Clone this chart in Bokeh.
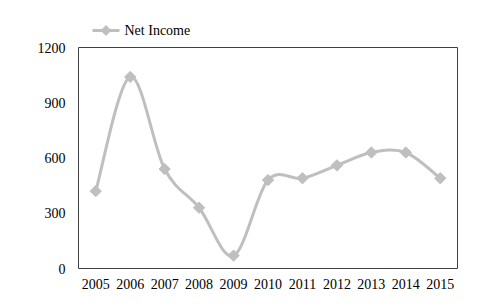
import math
from bokeh.plotting import figure
from bokeh.layouts import column
from bokeh.models import ColumnDataSource, FixedTicker
from bokeh.core.properties import value
from bokeh.embed import file_html
from bokeh.resources import INLINE

years = [2005, 2006, 2007, 2008, 2009, 2010, 2011, 2012, 2013, 2014, 2015]
net_income = [420, 1040, 540, 330, 70, 480, 490, 560, 630, 630, 490]
y_ticks = [0, 300, 600, 900, 1200]
series_name = "Net Income"

FONT = "'Liberation Serif', 'Times New Roman', serif"
GRAY = "#BFBFBF"

# smooth (Catmull-Rom style) segments through the data points
n = len(years)
seg = dict(x0=[], y0=[], x1=[], y1=[], cx0=[], cy0=[], cx1=[], cy1=[])
for i in range(n - 1):
    a = i - 1 if i > 0 else i
    d = i + 2 if i + 2 < n else i + 1
    seg["x0"].append(years[i]); seg["y0"].append(net_income[i])
    seg["x1"].append(years[i + 1]); seg["y1"].append(net_income[i + 1])
    seg["cx0"].append(years[i] + (years[i + 1] - years[a]) / 6)
    seg["cy0"].append(net_income[i] + (net_income[i + 1] - net_income[a]) / 6)
    seg["cx1"].append(years[i + 1] - (years[d] - years[i]) / 6)
    seg["cy1"].append(net_income[i + 1] - (net_income[d] - net_income[i]) / 6)

# ---- legend strip (ranges map 1 unit to 1 screen pixel) ----
lg = figure(width=479, height=40, output_backend="svg", toolbar_location=None,
            x_range=(78, 457), y_range=(40, 0), min_border=0,
            min_border_left=78, min_border_right=22,
            x_axis_location=None, y_axis_location=None)
lg.grid.visible = False
lg.outline_line_color = None
lg.background_fill_color = "white"
lg.border_fill_color = "white"
lg.line([92, 119], [30, 30], line_color=GRAY, line_width=3)
lg.scatter([105.5], [30], marker="square", size=7, angle=math.pi / 4,
           fill_color=GRAY, line_color=GRAY)
lg.text([124], [30], text=[series_name], text_font=value(FONT),
        text_font_size="14px", text_color="#000000", text_baseline="middle",
        text_align="left")

# ---- main chart ----
p = figure(width=479, height=264, output_backend="svg", toolbar_location=None,
           x_range=(years[0] - 0.5, years[-1] + 0.5), y_range=(0, 1200),
           min_border_left=78, min_border_right=22, min_border_top=7,
           min_border_bottom=36)
p.background_fill_color = "white"
p.border_fill_color = "white"
p.outline_line_color = "#404040"
p.outline_line_width = 1
p.grid.visible = False

p.bezier(x0="x0", y0="y0", x1="x1", y1="y1", cx0="cx0", cy0="cy0",
         cx1="cx1", cy1="cy1", source=ColumnDataSource(seg),
         line_color=GRAY, line_width=3)
src = ColumnDataSource(dict(x=years, y=net_income))
p.scatter("x", "y", source=src, marker="square", size=8,
          angle=math.pi / 4, fill_color=GRAY, line_color=GRAY)

for ax in (p.xaxis[0], p.yaxis[0]):
    ax.axis_line_color = None
    ax.major_tick_line_color = None
    ax.minor_tick_line_color = None
    ax.major_label_text_font = FONT
    ax.major_label_text_font_size = "14px"
    ax.major_label_text_color = "#000000"

p.xaxis.ticker = FixedTicker(ticks=years)
p.xaxis.major_label_standoff = 4
p.yaxis.ticker = FixedTicker(ticks=y_ticks)
p.yaxis.major_label_standoff = 7

layout = column(lg, p, spacing=0)
open("out.html", "w").write(file_html(layout, INLINE))
